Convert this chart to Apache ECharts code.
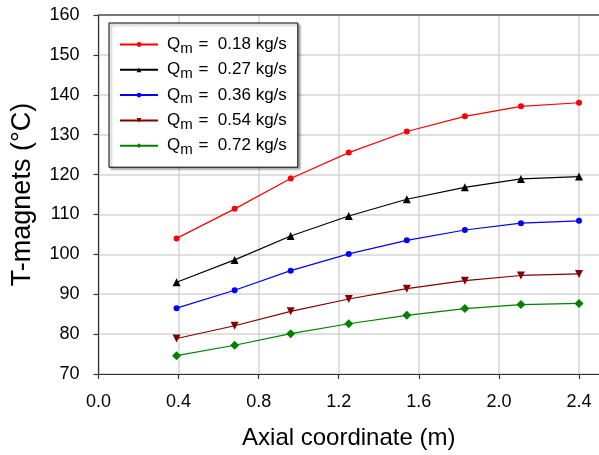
<!DOCTYPE html>
<html>
<head>
<meta charset="utf-8">
<script src="https://cdn.jsdelivr.net/npm/echarts@6/dist/echarts.min.js"></script>
<style>
  html, body { margin: 0; padding: 0; background: #fff; }
  #chart { width: 599px; height: 455px; }
</style>
</head>
<body>
<div id="chart"></div>
<script>
// Axial positions along the magnet (m)
const axialPos = [0.39, 0.68, 0.96, 1.25, 1.54, 1.83, 2.11, 2.40];

// Magnet temperature (°C) for each coolant mass flow rate
const flowLabels = ['0.18 kg/s', '0.27 kg/s', '0.36 kg/s', '0.54 kg/s', '0.72 kg/s'];
const tQ018 = [104.0, 111.4, 119.0, 125.5, 130.8, 134.6, 137.1, 138.0];
const tQ027 = [93.0, 98.6, 104.6, 109.6, 113.8, 116.8, 118.9, 119.5];
const tQ036 = [86.5, 91.0, 95.9, 100.1, 103.5, 106.1, 107.8, 108.4];
const tQ054 = [78.9, 82.1, 85.7, 88.8, 91.4, 93.4, 94.7, 95.1];
const tQ072 = [74.6, 77.2, 80.1, 82.6, 84.7, 86.4, 87.4, 87.7];

// Tick labels on the axial axis
const xTicks = ['0.0', '0.4', '0.8', '1.2', '1.6', '2.0', '2.4'];

const FONT = 'Liberation Sans, Arial, Helvetica, sans-serif';

const seriesStyle = [
  { color: '#ff0000', symbol: 'circle', size: 6, rotate: 0 },
  { color: '#000000', symbol: 'triangle', size: 8, rotate: 0 },
  { color: '#0000ff', symbol: 'circle', size: 6, rotate: 0 },
  { color: '#800000', symbol: 'triangle', size: 8, rotate: 180 },
  { color: '#008000', symbol: 'diamond', size: 9, rotate: 0 }
];
const seriesValues = [tQ018, tQ027, tQ036, tQ054, tQ072];

const series = seriesValues.map((vals, i) => ({
  name: flowLabels[i],
  type: 'line',
  xAxisIndex: 0,
  data: vals.map((v, k) => [axialPos[k], v]),
  symbol: seriesStyle[i].symbol,
  symbolSize: seriesStyle[i].size,
  symbolRotate: seriesStyle[i].rotate,
  showAllSymbol: true,
  lineStyle: { color: seriesStyle[i].color, width: 1.2 },
  itemStyle: { color: seriesStyle[i].color },
  emphasis: { disabled: true },
  animation: false
}));

const tickValues = xTicks.map(Number);

const chart = echarts.init(document.getElementById('chart'), null, { renderer: 'canvas' });
chart.setOption({
  backgroundColor: '#ffffff',
  animation: false,
  textStyle: { fontFamily: FONT },
  grid: { left: 98.5, right: -1, top: 15, bottom: 79, containLabel: false },
  legend: {
    orient: 'vertical',
    left: 109,
    top: 23,
    padding: [10, 11, 10, 10],
    itemWidth: 38,
    itemHeight: 6,
    itemGap: 2.3,
    backgroundColor: '#ffffff',
    borderColor: '#000000',
    borderWidth: 1,
    shadowColor: 'rgba(0,0,0,0.35)',
    shadowBlur: 2,
    shadowOffsetX: 2,
    shadowOffsetY: 2,
    data: flowLabels,
    formatter: name => '{q0|Q}{m|m}{q| =  ' + name + '}',
    textStyle: {
      fontFamily: FONT,
      color: '#000',
      rich: {
        q0: { fontSize: 17, fontFamily: FONT, color: '#000', lineHeight: 20, padding: [0, 0, 0, 4] },
        q: { fontSize: 17, fontFamily: FONT, color: '#000', lineHeight: 20 },
        m: { fontSize: 15, fontFamily: FONT, color: '#000', lineHeight: 12, padding: [8, 1, 0, 0] }
      }
    }
  },
  xAxis: [{
    type: 'value',
    min: 0,
    max: 2.5,
    interval: 0.4,
    name: 'Axial coordinate (m)',
    nameLocation: 'middle',
    nameGap: 52,
    nameTextStyle: { fontSize: 24, fontFamily: FONT, color: '#000' },
    axisLine: { show: true, onZero: false, lineStyle: { color: '#333', width: 1.2 } },
    axisTick: { show: true, length: 5, customValues: tickValues, lineStyle: { color: '#333', width: 1.2 } },
    axisLabel: {
      fontSize: 18, fontFamily: FONT, color: '#000', margin: 19,
      customValues: tickValues,
      formatter: v => v.toFixed(1)
    },
    splitLine: { show: true, lineStyle: { color: '#d4d4d4', width: 1.5 } }
  }, {
    type: 'value',
    position: 'top',
    min: 0,
    max: 2.5,
    axisLine: { show: true, onZero: false, lineStyle: { color: '#555', width: 1.5 } },
    axisTick: { show: false },
    axisLabel: { show: false },
    splitLine: { show: false }
  }],
  yAxis: {
    type: 'value',
    min: 70,
    max: 160,
    interval: 10,
    name: 'T-magnets (°C)',
    nameLocation: 'middle',
    nameGap: 62,
    nameTextStyle: { fontSize: 27, fontFamily: FONT, color: '#000' },
    axisLine: { show: true, onZero: false, lineStyle: { color: '#333', width: 1.2 } },
    axisTick: { show: true, length: 5, lineStyle: { color: '#333', width: 1.2 } },
    axisLabel: { fontSize: 18, fontFamily: FONT, color: '#000', margin: 19 },
    splitLine: { show: true, lineStyle: { color: '#d4d4d4', width: 1.5 } }
  },
  series: series
});
</script>
</body>
</html>
